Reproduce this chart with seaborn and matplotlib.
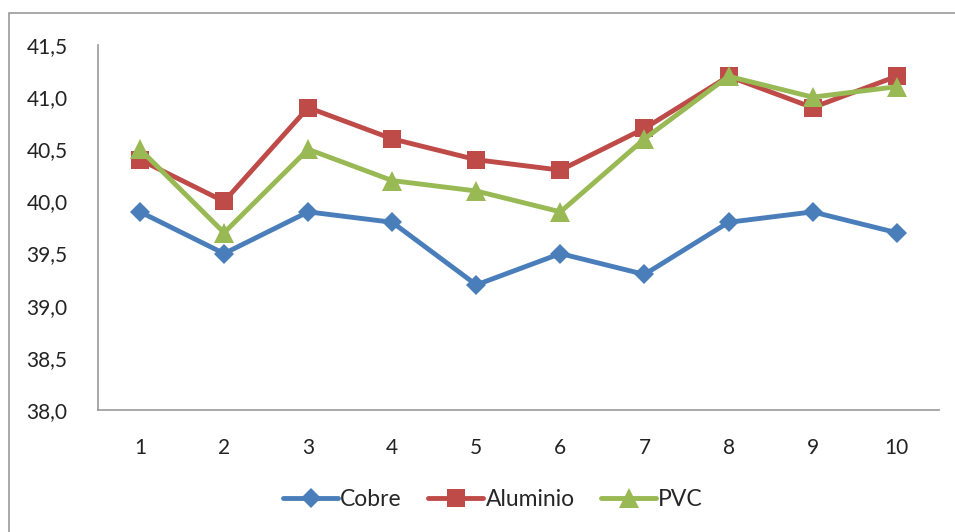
import matplotlib
matplotlib.use("Agg")
import matplotlib.pyplot as plt
import seaborn as sns
import pandas as pd
from matplotlib.patches import Rectangle
from matplotlib.ticker import FuncFormatter

categories = [1, 2, 3, 4, 5, 6, 7, 8, 9, 10]
cobre = [39.9, 39.5, 39.9, 39.8, 39.2, 39.5, 39.3, 39.8, 39.9, 39.7]
aluminio = [40.4, 40.0, 40.9, 40.6, 40.4, 40.3, 40.7, 41.2, 40.9, 41.2]
pvc = [40.5, 39.7, 40.5, 40.2, 40.1, 39.9, 40.6, 41.2, 41.0, 41.1]
series_names = ["Cobre", "Aluminio", "PVC"]
y_ticks = [38.0, 38.5, 39.0, 39.5, 40.0, 40.5, 41.0, 41.5]

sns.set_theme(style="white")
plt.rcParams['font.family'] = ['Lato', 'DejaVu Sans']

df = pd.DataFrame({
    "x": categories * 3,
    "y": cobre + aluminio + pvc,
    "serie": [series_names[0]] * 10 + [series_names[1]] * 10 + [series_names[2]] * 10,
})

colors = {"Cobre": "#4A7EBB", "Aluminio": "#BE4B48", "PVC": "#98B954"}
markers = {"Cobre": "D", "Aluminio": "s", "PVC": "^"}
msizes = {"Cobre": 10, "Aluminio": 13, "PVC": 14}

fig = plt.figure(figsize=(9.55, 5.32), dpi=100)
ax = fig.add_axes([0.1026, 0.2293, 0.8804, 0.6861])

for name in series_names:
    sub = df[df["serie"] == name]
    sns.lineplot(data=sub, x="x", y="y", ax=ax, color=colors[name], marker=markers[name],
                 markersize=msizes[name], markeredgewidth=0, linewidth=3.5, label=name,
                 solid_capstyle="round")

ax.set_xlim(0.5, 10.5)
ax.set_ylim(38.0, 41.5)
ax.set_xticks(categories)
ax.set_xticklabels([str(c) for c in categories])
ax.set_yticks(y_ticks)
ax.yaxis.set_major_formatter(FuncFormatter(lambda v, p: f"{v:.1f}".replace(".", ",")))
ax.tick_params(axis="both", labelsize=15, colors="#222222", length=0)
ax.tick_params(axis="x", pad=20)
ax.tick_params(axis="y", pad=22)
ax.set_xlabel("")
ax.set_ylabel("")
for s in ["top", "right"]:
    ax.spines[s].set_visible(False)
for s in ["left", "bottom"]:
    ax.spines[s].set_color("#999999")
    ax.spines[s].set_linewidth(1.2)

leg = fig.legend(*ax.get_legend_handles_labels(), loc="center", bbox_to_anchor=(493 / 955, 1 - 500 / 532),
                 ncol=3, frameon=False, fontsize=16.5, handlelength=2.4, columnspacing=1.15,
                 handletextpad=0.1)
ax.get_legend().remove()

fig.patches.append(Rectangle((9 / 955, -0.1), 1.2, 1.1 - 13 / 532,
                             transform=fig.transFigure, fill=False, edgecolor="#999999",
                             linewidth=1.2, clip_on=False))

fig.savefig("out.png", dpi=100)
